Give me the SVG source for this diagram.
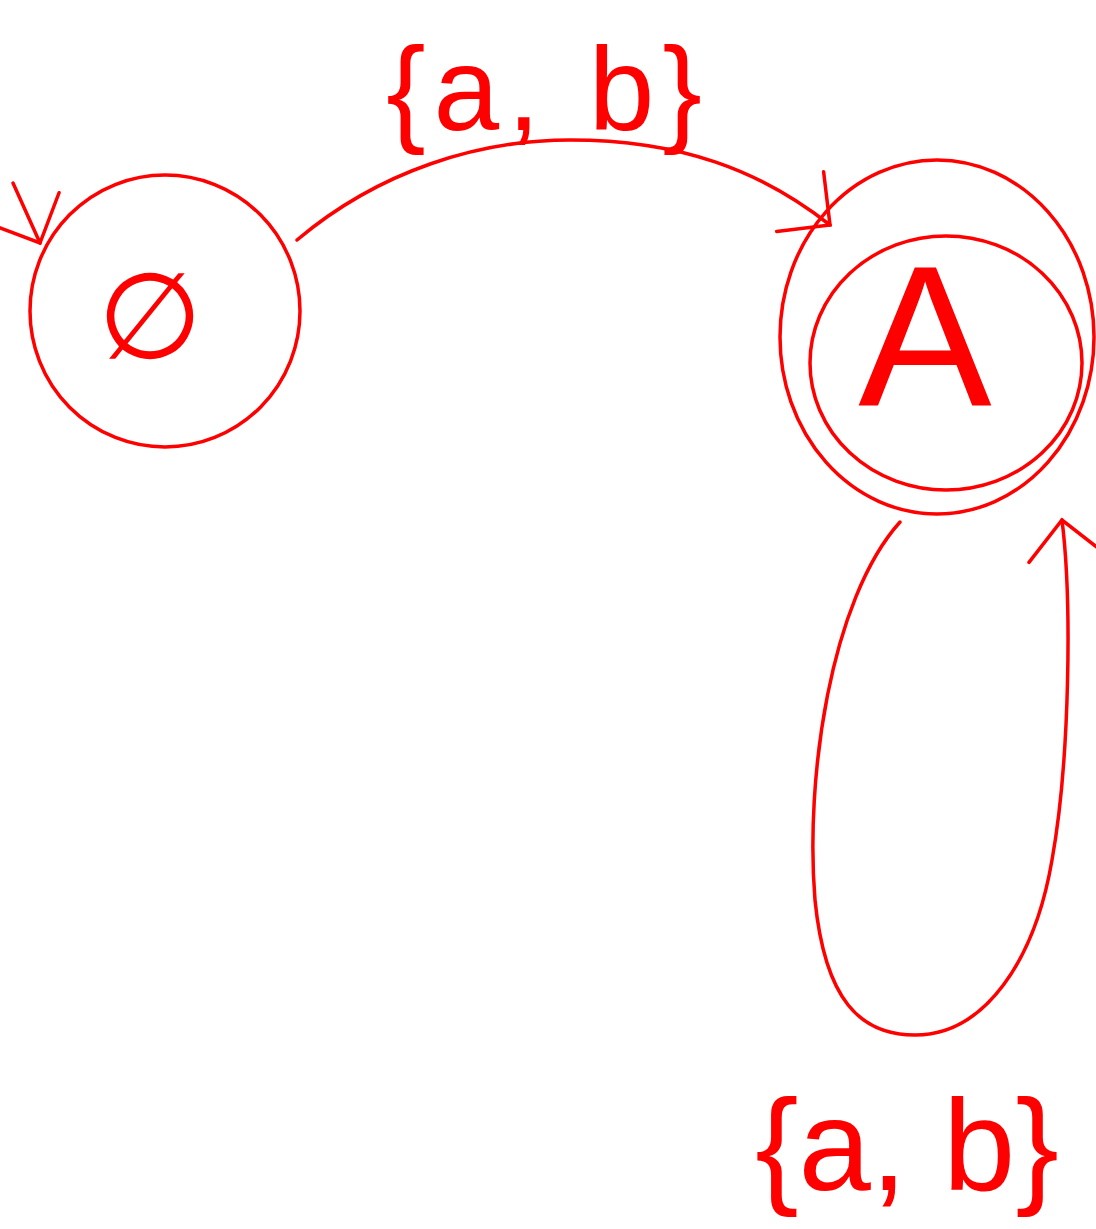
<svg xmlns="http://www.w3.org/2000/svg" width="1096" height="1229" viewBox="0 0 1096 1229">
<style>
.s{fill:none;stroke:#ff0000;stroke-width:3.5;stroke-linecap:round;stroke-linejoin:round}
.t{fill:#ff0000;font-family:"Liberation Sans",Arial,sans-serif}
</style>
<defs>
<marker id="arr" markerUnits="userSpaceOnUse" markerWidth="70" markerHeight="100" refX="60" refY="45" orient="auto" overflow="visible">
<path d="M22,7 L60,45 L22,83" fill="none" stroke="#ff0000" stroke-width="3.5" stroke-linecap="round"/>
</marker>
</defs>
<rect width="1096" height="1229" fill="#ffffff"/>
<g id="connectors">
<path class="s" d="M13,183 L40,243" marker-end="url(#arr)"/>
<path class="s" d="M297,240 C380,170 480,140 570,140 C680,140 760,170 830,225" marker-end="url(#arr)"/>
<path class="s" d="M900,522 C830,600 805,780 815,900 C825,1000 860,1035 915,1035 C985,1035 1035,960 1052,860 C1070,760 1072,600 1062,520" marker-end="url(#arr)"/>
<text class="t" x="548" y="130" font-size="118" letter-spacing="8" text-anchor="middle">{a, b}</text>
<text class="t" x="907" y="1190" font-size="130" text-anchor="middle">{a, b}</text>
</g>
<g id="node-empty">
<ellipse class="s" cx="165" cy="311" rx="135" ry="136"/>
<text x="150" y="358" font-size="120" fill="#ff0000" font-family="DejaVu Sans,sans-serif" text-anchor="middle">∅</text>
</g>
<g id="node-A">
<ellipse class="s" cx="937" cy="337" rx="157" ry="177"/>
<ellipse class="s" cx="946" cy="363" rx="136" ry="127"/>
<text class="t" x="925" y="405" font-size="200" text-anchor="middle">A</text>
</g>
</svg>
